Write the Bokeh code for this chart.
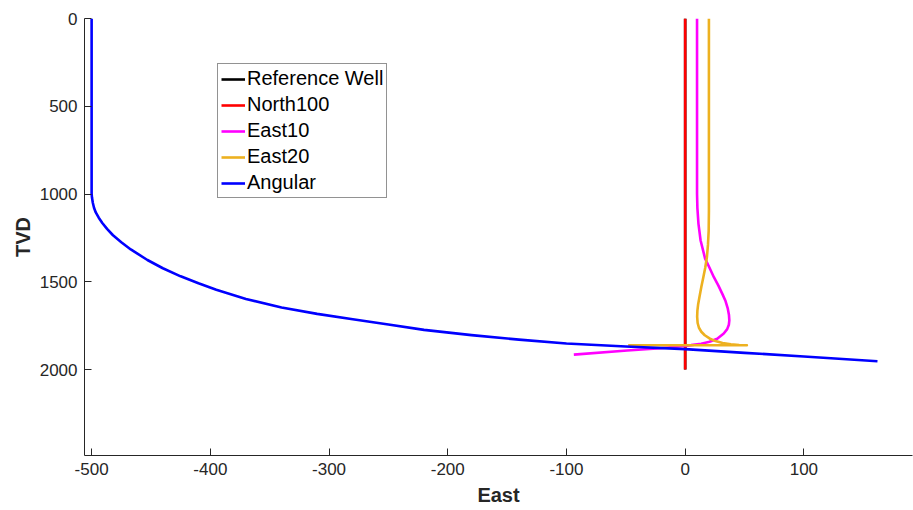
from bokeh.plotting import figure
from bokeh.models import Range1d, FixedTicker, Legend, LegendItem
from bokeh.embed import file_html
from bokeh.resources import INLINE

# ---- data ----
ref_east = [0, 0]
ref_tvd = [0, 2000]

north100_east = [0, 0]
north100_tvd = [0, 2000]

east10_east = [10, 10, 10.3, 11.2, 13.0, 16.8, 20.5, 24.2, 28.0, 31.3, 34.0, 35.8, 36.9, 37.2, 36.8, 35.4, 32.5, 27.0, 20.5, 13.5, 5.0, -5.0, -20.7, -48.8, -93.8]
east10_tvd = [0, 1000, 1080, 1170, 1265, 1368, 1420, 1474, 1522, 1569, 1610, 1650, 1690, 1720, 1745, 1770, 1795, 1825, 1842, 1853, 1861, 1868, 1879, 1892, 1915]

east20_east = [20, 20, 19.8, 19.2, 18.3, 16.9, 15.3, 13.6, 12.0, 10.9, 10.3, 10.1, 10.5, 11.6, 13.6, 16.5, 20.5, 25.5, 31.5, 38.5, 45.5, 52.0, -48]
east20_tvd = [0, 1100, 1210, 1290, 1360, 1420, 1474, 1530, 1588, 1630, 1664, 1700, 1735, 1762, 1785, 1805, 1823, 1838, 1849, 1856, 1860, 1862, 1862]

angular_east = [-500, -500, -499.7, -499.0, -498.0, -496.5, -494.0, -491.0, -487.0, -482.0, -475.0,
                -467.0, -453.0, -440.0, -425.0, -410.0, -395.0, -370.0, -340.0, -310.0, -280.0,
                -250.0, -220.0, -180.0, -140.0, -100.0, -50.0, 0.0, 50.0, 100.0, 162.0]
angular_tvd = [0, 1000, 1020, 1050, 1078, 1105, 1135, 1165, 1199, 1235, 1275,
               1316, 1376, 1423, 1469, 1509, 1546, 1598, 1647, 1683, 1714,
               1744, 1774, 1804, 1830, 1852, 1869, 1884, 1905, 1926, 1953]

x_ticks = [-500, -400, -300, -200, -100, 0, 100]
y_ticks = [0, 500, 1000, 1500, 2000]

series = [
    ("Reference Well", ref_east, ref_tvd, "#000000"),
    ("North100", north100_east, north100_tvd, "#FF0000"),
    ("East10", east10_east, east10_tvd, "#FF00FF"),
    ("East20", east20_east, east20_tvd, "#EDB120"),
    ("Angular", angular_east, angular_tvd, "#0000FF"),
]

FONT = "Liberation Sans"
AXC = "#262626"

p = figure(width=913, height=510, output_backend="svg", toolbar_location=None,
           x_range=Range1d(-506, 191.5), y_range=Range1d(2490, 0),
           min_border_left=84, min_border_right=1, min_border_top=18, min_border_bottom=55)
p.grid.visible = False
p.outline_line_color = None
p.background_fill_color = "white"
p.border_fill_color = "white"

items = []
for name, xs, ys, col in series:
    r = p.line(xs, ys, line_color=col, line_width=2.6, line_join="round")
    items.append(LegendItem(label=name, renderers=[r]))

for ax in (p.xaxis[0], p.yaxis[0]):
    ax.axis_line_color = AXC
    ax.major_tick_line_color = AXC
    ax.major_tick_in = 7
    ax.major_tick_out = 0
    ax.minor_tick_line_color = None
    ax.major_label_text_font = FONT
    ax.major_label_text_font_size = "17px"
    ax.major_label_text_color = AXC
    ax.axis_label_text_font = FONT
    ax.axis_label_text_font_size = "20px"
    ax.axis_label_text_font_style = "bold"
    ax.axis_label_text_color = AXC
    ax.major_label_standoff = 7

p.xaxis[0].ticker = FixedTicker(ticks=x_ticks)
p.yaxis[0].ticker = FixedTicker(ticks=y_ticks)
p.xaxis[0].major_label_overrides = {t: str(t) for t in x_ticks}
p.yaxis[0].major_label_overrides = {t: str(t) for t in y_ticks}
p.xaxis[0].axis_label = "East"
p.yaxis[0].axis_label = "TVD"
p.xaxis[0].axis_label_standoff = 6
p.yaxis[0].axis_label_standoff = 3

legend = Legend(items=items, location=(133, 257))
legend.label_text_font = FONT
legend.label_text_font_size = "20px"
legend.label_text_color = "#000000"
legend.glyph_width = 24
legend.glyph_height = 20
legend.label_height = 20
legend.label_standoff = 2
legend.spacing = 3
legend.padding = 3
legend.margin = 0
legend.border_line_color = AXC
legend.border_line_width = 1
legend.background_fill_alpha = 1
p.add_layout(legend)

open("out.html", "w").write(file_html(p, INLINE))
